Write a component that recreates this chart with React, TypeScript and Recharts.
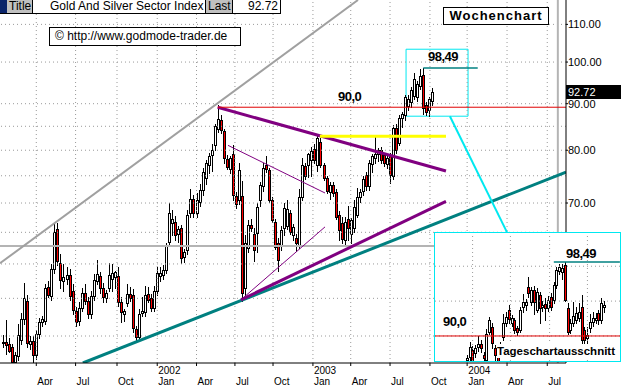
import { ComposedChart, Bar, XAxis, YAxis, ReferenceLine, ReferenceArea } from "recharts";

const FONT = "'Liberation Sans', Arial, Helvetica, sans-serif";

// weekly candles [open, high, low, close], one per week from Jan 2001
const weeklyOHLC: [number, number, number, number][] = [
  [49.3, 50.1, 48.6, 49.2], [49.2, 52.1, 47.8, 48.9], [49.0, 49.8, 48.0, 48.2], [48.6, 49.0, 46.2, 46.8],
  [46.8, 48.0, 46.3, 47.6], [47.5, 51.5, 47.0, 50.1], [49.5, 53.0, 49.0, 52.2], [52.2, 57.2, 51.6, 55.0],
  [54.6, 55.5, 48.6, 49.1], [49.0, 50.0, 48.4, 49.4], [49.4, 50.0, 46.6, 47.6], [47.6, 50.8, 47.2, 50.3],
  [50.3, 52.3, 49.8, 51.8], [51.8, 52.6, 51.3, 52.2], [52.0, 57.0, 51.6, 56.5], [56.6, 57.5, 55.2, 55.5],
  [55.3, 60.0, 54.8, 59.2], [59.2, 66.4, 58.7, 65.0], [65.5, 66.6, 59.8, 60.4], [60.2, 61.5, 56.5, 57.6],
  [57.4, 60.0, 56.0, 58.1], [57.8, 59.5, 57.1, 58.4], [58.4, 59.2, 54.8, 55.3], [56.0, 57.0, 52.8, 53.4],
  [53.2, 53.8, 51.3, 51.8], [51.9, 54.5, 51.4, 53.7], [53.7, 56.5, 53.2, 55.8], [55.7, 57.0, 54.2, 54.6],
  [54.6, 55.2, 52.3, 52.8], [52.8, 56.0, 52.3, 55.3], [55.3, 58.5, 54.8, 57.6], [57.5, 60.6, 57.0, 58.5],
  [58.2, 58.8, 55.8, 56.4], [56.4, 57.2, 54.5, 55.2], [55.0, 56.2, 54.5, 55.8], [56.5, 60.2, 56.0, 58.4],
  [57.8, 60.0, 56.0, 58.6], [58.0, 59.0, 56.5, 58.8], [58.2, 59.5, 54.0, 54.5], [54.5, 55.2, 51.8, 53.1],
  [52.8, 53.6, 52.0, 53.2], [54.4, 57.0, 54.0, 55.6], [55.6, 56.6, 54.6, 55.0], [55.5, 56.3, 50.5, 51.0],
  [50.9, 51.3, 49.4, 49.9], [49.9, 53.6, 49.5, 52.9], [53.0, 55.2, 52.6, 53.2], [53.1, 56.8, 52.6, 55.5],
  [55.6, 56.6, 54.5, 54.8], [55.1, 55.6, 53.2, 53.7], [53.7, 56.8, 53.2, 56.0], [56.0, 59.5, 55.5, 58.7],
  [58.2, 59.5, 57.5, 58.6], [58.4, 59.8, 57.8, 59.1], [59.1, 63.3, 58.6, 62.9], [63.5, 70.0, 62.9, 68.3],
  [66.5, 68.8, 64.6, 67.2], [66.7, 67.8, 63.8, 64.6], [64.8, 66.0, 63.5, 65.6], [65.7, 66.2, 60.2, 60.9],
  [61.0, 62.3, 60.3, 61.9], [62.2, 68.8, 61.5, 67.9], [68.2, 72.5, 67.6, 70.8], [70.7, 71.5, 67.6, 68.2],
  [68.2, 71.8, 67.5, 70.5], [70.2, 73.4, 69.5, 72.3], [72.3, 76.5, 71.5, 75.8], [74.5, 78.0, 73.5, 77.4],
  [77.0, 79.5, 75.5, 78.8], [79.0, 81.3, 76.0, 80.1], [81.0, 85.5, 80.0, 85.0], [84.5, 89.7, 83.8, 86.5],
  [86.3, 87.5, 83.5, 84.3], [84.0, 84.5, 77.5, 78.5], [78.2, 79.0, 76.3, 76.6], [76.3, 78.8, 75.5, 78.5],
  [79.2, 81.0, 70.5, 71.4], [71.3, 72.0, 69.2, 69.8], [70.5, 77.5, 69.8, 76.1], [71.2, 74.0, 54.6, 55.8],
  [56.5, 64.5, 55.5, 63.2], [62.5, 67.0, 61.8, 66.2], [66.2, 67.3, 65.2, 65.7], [64.8, 65.7, 60.5, 62.1],
  [64.9, 70.0, 61.8, 69.3], [70.5, 73.8, 69.5, 73.3], [73.0, 77.5, 72.2, 76.5], [77.0, 78.8, 75.8, 76.3],
  [76.1, 76.5, 70.2, 70.5], [70.5, 71.0, 66.8, 67.1], [66.8, 67.3, 62.3, 62.6], [63.3, 64.0, 59.0, 60.6],
  [63.0, 66.0, 62.2, 65.4], [65.7, 70.0, 64.6, 69.1], [66.0, 70.5, 65.5, 69.0], [68.2, 68.8, 64.8, 65.0],
  [64.6, 66.4, 63.8, 65.9], [64.0, 64.8, 62.0, 63.3], [63.0, 72.5, 62.4, 71.1], [71.0, 78.5, 70.5, 77.0],
  [76.8, 77.5, 74.4, 75.0], [77.1, 79.5, 74.8, 79.2], [78.0, 80.6, 75.0, 79.8], [80.3, 81.2, 77.5, 78.0],
  [77.0, 83.2, 76.0, 82.5], [81.6, 82.5, 76.6, 77.1], [77.1, 77.5, 74.2, 74.6], [74.6, 75.0, 71.8, 72.2],
  [71.9, 73.8, 70.8, 73.3], [73.3, 73.8, 71.3, 71.8], [72.0, 72.6, 67.2, 67.6], [67.9, 68.6, 63.7, 65.4],
  [66.5, 67.5, 63.2, 63.9], [63.8, 67.5, 62.8, 66.7], [67.3, 69.5, 63.8, 65.7], [64.8, 67.4, 63.3, 67.0],
  [65.7, 70.5, 65.0, 69.3], [67.9, 72.8, 67.5, 71.1], [71.0, 72.5, 70.2, 72.0], [72.2, 75.0, 71.5, 74.4],
  [75.2, 75.8, 72.3, 73.1], [73.1, 78.0, 72.3, 77.4], [77.2, 79.3, 75.8, 78.9], [78.5, 83.0, 77.5, 79.3],
  [79.2, 80.5, 77.8, 80.0], [80.0, 80.6, 77.5, 78.0], [79.0, 79.5, 76.8, 77.5], [77.2, 79.0, 76.5, 78.4],
  [79.0, 79.5, 73.6, 75.2], [75.0, 85.3, 74.4, 84.6], [84.6, 85.5, 79.4, 80.0], [81.5, 87.5, 81.0, 86.8],
  [86.8, 88.2, 84.8, 87.6], [87.4, 92.0, 86.4, 91.5], [89.5, 92.0, 88.5, 91.0], [90.5, 93.8, 89.3, 93.2],
  [91.8, 97.2, 91.0, 95.8], [91.5, 95.2, 90.6, 94.6], [94.2, 98.3, 93.4, 96.6], [96.8, 98.49, 87.6, 89.0],
  [89.8, 90.5, 87.4, 88.2], [88.5, 91.5, 87.2, 91.0], [90.6, 93.6, 89.8, 92.72],
];

// daily candles for the inset (Tageschartausschnitt)
const dailyOHLC: [number, number, number, number][] = [
  [87.2, 87.8, 86.9, 87.5], [87.6, 89.3, 86.9, 88.7], [88.4, 88.9, 86.8, 87.1], [88.0, 89.0, 87.6, 88.6],
  [88.7, 90.0, 88.3, 89.1], [89.1, 89.5, 88.2, 88.6], [87.8, 88.2, 87.1, 87.5], [87.3, 90.8, 87.1, 90.2],
  [90.5, 92.2, 90.2, 91.8], [91.0, 91.5, 88.6, 89.2], [88.6, 89.0, 87.3, 87.8], [87.6, 88.0, 86.8, 87.0],
  [88.0, 89.3, 87.6, 89.0], [89.9, 92.5, 89.5, 91.5], [91.5, 92.8, 91.2, 92.2], [93.0, 93.6, 91.5, 91.9],
  [91.5, 92.4, 91.2, 92.1], [91.8, 92.1, 90.3, 90.7], [90.9, 91.2, 90.1, 90.5], [90.7, 93.3, 90.4, 93.0],
  [93.3, 94.8, 92.8, 93.9], [93.5, 94.2, 93.0, 93.9], [95.6, 96.8, 94.5, 94.9], [93.9, 95.6, 93.5, 95.3],
  [95.3, 95.7, 92.5, 93.9], [93.0, 95.5, 92.7, 95.0], [94.7, 95.0, 91.5, 93.2], [93.3, 94.0, 92.9, 93.6],
  [93.7, 94.3, 91.8, 93.2], [93.2, 94.6, 92.9, 94.1], [94.5, 94.9, 93.0, 93.3], [94.1, 96.2, 93.8, 95.8],
  [95.8, 97.9, 95.5, 97.6], [97.4, 98.2, 97.1, 97.9], [97.3, 98.2, 96.5, 97.8], [98.1, 98.49, 94.0, 94.1],
  [93.2, 93.8, 90.2, 90.5], [90.7, 92.0, 90.3, 91.5], [91.5, 93.9, 91.2, 92.3], [91.8, 93.3, 91.5, 92.6],
  [92.1, 93.8, 91.7, 92.7], [93.3, 94.7, 89.2, 89.5], [90.7, 91.0, 89.1, 89.5], [89.8, 91.0, 88.8, 90.1],
  [90.9, 92.5, 90.4, 91.6], [91.6, 92.8, 91.2, 92.1], [91.8, 92.6, 91.5, 92.1], [92.6, 93.0, 91.4, 91.8],
  [91.8, 94.3, 91.5, 93.8], [93.3, 94.0, 92.8, 93.5],
];

// x axis: week position of each quarter label
const quarterWeeks = [12, 25, 38.7, 52, 65, 77.7, 90.3, 103.5, 116, 129, 142.2, 154.5, 167.7, 181];
const quarterLabels = ["Apr", "Jul", "Oct", "Jan", "Apr", "Jul", "Oct", "Jan", "Apr", "Jul", "Oct", "Jan", "Apr", "Jul"];
const yearLabels = ["", "", "", "2002", "", "", "", "2003", "", "", "", "2004", "", ""];

const priceTicks = [70, 80, 90, 100, 110];
const gridPrices = [50, 55, 60, 65, 70, 75, 80, 85, 90, 100, 110];

// drawn lines, [week, price] endpoints
const grayChannel = [[0, 60.1], [118.4, 117]];
const tealTrend = [[27.4, 46.7], [187.2, 75.7]];
const purpleLower = [[79.7, 54.8], [147.5, 70.3]];
const purpleThinLower = [[79.7, 54.8], [107.5, 65.9]];
const purpleUpper = [[72, 89.2], [147.5, 75.9]];
const purpleThinUpper = [[75.4, 81.0], [107.5, 71.8]];
const yellowLevel = [[105.8, 82.9], [147.5, 82.9]];
const redLevel = [[72, 89.2], [187.2, 89.2]];
const tealHigh = [[140, 98.49], [158, 98.49]];
const zoomBox = { x1: 134.3, x2: 154.8, y1: 87.2, y2: 103.3 };
const cyanLink = [[148.8, 87.2], [167.7, 65.0]];
const grayLevel = 62.8;
const grayMarker = 184.5;

const insetGridPrices = [90, 94, 98];
const insetGridDays = [3, 16.5, 30.5, 44];

function makeCandle(kind: "log" | "linear") {
  return (props: any) => {
    const { x, y, width, height, payload } = props;
    if (x == null || y == null || !payload) return <g />;
    const top = Math.min(y, y + height);
    const span = Math.abs(height);
    const { o, h, l, c } = payload;
    const frac = (v: number) =>
      h === l ? 0 : kind === "log" ? (Math.log(h) - Math.log(v)) / (Math.log(h) - Math.log(l)) : (h - v) / (h - l);
    const py = (v: number) => top + span * frac(v);
    const cx = Math.round(x + width / 2);
    const bTop = Math.round(py(Math.max(o, c)));
    const bBot = Math.round(py(Math.min(o, c)));
    const up = c >= o;
    return (
      <g>
        <line x1={cx + 0.5} x2={cx + 0.5} y1={Math.round(top)} y2={Math.round(top + span) + 1} stroke="#000" strokeWidth={1} />
        <rect x={cx - 0.5} y={bTop + 0.5} width={2} height={Math.max(bBot - bTop, 1)} fill={up ? "#fff" : "#ff0000"} stroke="#000" strokeWidth={1} />
      </g>
    );
  };
}

const WeeklyCandle = makeCandle("log");
const DailyCandle = makeCandle("linear");

function QuarterTick(props: any) {
  const { x, y, payload } = props;
  const i = quarterWeeks.indexOf(payload.value);
  return (
    <g>
      {yearLabels[i] ? (
        <text x={x + 1} y={y + 5.5} fontSize={10} fontFamily={FONT} fill="#000">{yearLabels[i]}</text>
      ) : null}
      <text x={x + 1} y={y + 16.5} fontSize={10} fontFamily={FONT} fill="#000">{quarterLabels[i]}</text>
    </g>
  );
}

function seg(p: number[][]) {
  return [{ x: p[0][0], y: p[0][1] }, { x: p[1][0], y: p[1][1] }];
}

const bold = { fontFamily: FONT, fontWeight: 700, position: "absolute" as const, lineHeight: "14px", whiteSpace: "nowrap" as const };

export default function App() {
  const weekly = weeklyOHLC.map(([o, h, l, c], i) => ({ week: i + 1, o, h, l, c, range: [l, h] }));
  const daily = dailyOHLC.map(([o, h, l, c], i) => ({ day: i + 1, o, h, l, c, range: [l, h] }));

  return (
    <div style={{ position: "fixed", left: 0, top: 0, width: 621, height: 385, background: "#fff", overflow: "hidden", fontFamily: FONT }}>
      <ComposedChart width={621} height={385} data={weekly} margin={{ top: 0, right: 0, bottom: 0, left: 0 }}>
        <XAxis
          type="number"
          dataKey="week"
          domain={[0, 187.2]}
          allowDataOverflow
          ticks={quarterWeeks}
          interval={0}
          tick={<QuarterTick />}
          tickSize={3}
          tickLine={{ stroke: "#000" }}
          axisLine={{ stroke: "#000" }}
          height={22}
        />
        <YAxis
          orientation="right"
          scale="log"
          domain={[46.7, 117]}
          allowDataOverflow
          ticks={priceTicks}
          interval={0}
          tickFormatter={(v: number) => v.toFixed(2)}
          tick={{ fill: "#000", fontSize: 11, fontFamily: FONT }}
          tickSize={2}
          tickMargin={0}
          tickLine={{ stroke: "#000" }}
          axisLine={{ stroke: "#000" }}
          width={55}
        />
        {gridPrices.map((p) => (
          <ReferenceLine key={"g" + p} y={p} stroke="#9a9a9a" strokeDasharray="1 3" />
        ))}
        {quarterWeeks.map((w) => (
          <ReferenceLine key={"v" + w} x={w} stroke="#9a9a9a" strokeDasharray="1 3" />
        ))}
        <ReferenceLine y={grayLevel} stroke="#b4b4b4" strokeWidth={2} />
        <ReferenceLine x={grayMarker} stroke="#b4b4b4" strokeWidth={2} />
        <ReferenceLine segment={seg(grayChannel)} stroke="#a0a0a0" strokeWidth={2} ifOverflow="hidden" />
        <ReferenceLine segment={seg(tealTrend)} stroke="#008080" strokeWidth={3} ifOverflow="hidden" />
        <ReferenceLine segment={seg(purpleLower)} stroke="#800080" strokeWidth={3} ifOverflow="hidden" />
        <ReferenceLine segment={seg(purpleThinLower)} stroke="#800080" strokeWidth={1} ifOverflow="hidden" />
        <ReferenceLine segment={seg(purpleUpper)} stroke="#800080" strokeWidth={3} ifOverflow="hidden" />
        <ReferenceLine segment={seg(purpleThinUpper)} stroke="#800080" strokeWidth={1} ifOverflow="hidden" />
        <ReferenceLine segment={seg(yellowLevel)} stroke="#ffff00" strokeWidth={3} ifOverflow="hidden" />
        <ReferenceLine segment={seg(redLevel)} stroke="#e00000" strokeWidth={1} ifOverflow="hidden" />
        <ReferenceLine segment={seg(tealHigh)} stroke="#008080" strokeWidth={1.5} ifOverflow="hidden" />
        <Bar dataKey="range" barSize={3} shape={WeeklyCandle} isAnimationActive={false} />
        <ReferenceArea x1={zoomBox.x1} x2={zoomBox.x2} y1={zoomBox.y1} y2={zoomBox.y2} fill="none" fillOpacity={0} stroke="#00e8f0" strokeWidth={1} ifOverflow="hidden" />
        <ReferenceLine segment={seg(cyanLink)} stroke="#00e8f0" strokeWidth={2} ifOverflow="hidden" />
      </ComposedChart>

      {/* title bar */}
      <div style={{ position: "absolute", left: 0, top: 0, width: 280, height: 13, borderRight: "1px solid #000", borderBottom: "1px solid #000", fontSize: 12, lineHeight: "13px", background: "#fff" }}>
        <div style={{ position: "absolute", left: 0, top: 0, width: 7, height: 13, background: "#0a246a" }} />
        <div style={{ position: "absolute", left: 7, top: 0, width: 25, height: 13, background: "#c0c0c0", paddingLeft: 2, boxSizing: "border-box" }}>Title</div>
        <div style={{ position: "absolute", left: 32, top: 0, width: 1, height: 13, background: "#000" }} />
        <div style={{ position: "absolute", left: 50, top: 0 }}>Gold And Silver Sector Index</div>
        <div style={{ position: "absolute", left: 205, top: 0, width: 1, height: 13, background: "#000" }} />
        <div style={{ position: "absolute", left: 206, top: 0, width: 26, height: 13, background: "#c0c0c0", paddingLeft: 2, boxSizing: "border-box" }}>Last</div>
        <div style={{ position: "absolute", left: 232, top: 0, width: 1, height: 13, background: "#000" }} />
        <div style={{ position: "absolute", left: 233, top: 0, width: 45, textAlign: "right" }}>92.72</div>
      </div>

      <div style={{ position: "absolute", left: 49, top: 27, width: 192, height: 19, border: "1px solid #000", boxSizing: "border-box", background: "#fff", fontSize: 12, lineHeight: "17px", paddingLeft: 5 }}>
        © http://www.godmode-trader.de
      </div>

      <div style={{ ...bold, left: 443, top: 7, width: 106, height: 18, border: "1px solid #000", boxSizing: "border-box", background: "#fff", fontSize: 13, lineHeight: "16px", letterSpacing: 1, textAlign: "center" }}>
        Wochenchart
      </div>

      <div style={{ ...bold, left: 338, top: 90, fontSize: 13, letterSpacing: -0.5 }}>90,0</div>
      <div style={{ ...bold, left: 428, top: 50, fontSize: 13, letterSpacing: -0.5 }}>98,49</div>

      <div style={{ position: "absolute", left: 566, top: 85, width: 55, height: 14, background: "#000", color: "#fff", fontSize: 11, lineHeight: "14px", paddingLeft: 2, boxSizing: "border-box" }}>92.72</div>

      {/* inset daily chart */}
      <div style={{ position: "absolute", left: 434, top: 232, width: 185, height: 128, border: "1px solid #00e8f0", background: "#fff", overflow: "hidden" }}>
        <ComposedChart width={185} height={128} data={daily} margin={{ top: 0, right: 0, bottom: 0, left: 0 }}>
          <XAxis type="number" dataKey="day" domain={[-10.43, 55.64]} allowDataOverflow hide />
          <YAxis domain={[87.13, 101.81]} allowDataOverflow hide />
          {insetGridPrices.map((p) => (
            <ReferenceLine key={"ig" + p} y={p} stroke="#9a9a9a" strokeDasharray="1 3" />
          ))}
          {insetGridDays.map((d) => (
            <ReferenceLine key={"iv" + d} x={d} stroke="#9a9a9a" strokeDasharray="1 3" />
          ))}
          <ReferenceLine y={90} stroke="#e00000" strokeWidth={1} />
          <ReferenceLine segment={[{ x: 32, y: 98.49 }, { x: 55.6, y: 98.49 }]} stroke="#008080" strokeWidth={1.5} />
          <Bar dataKey="range" barSize={3} shape={DailyCandle} isAnimationActive={false} />
        </ComposedChart>
        <div style={{ ...bold, left: 8, top: 82, fontSize: 13, letterSpacing: -0.5 }}>90,0</div>
        <div style={{ ...bold, left: 131, top: 14, fontSize: 13, letterSpacing: -0.5 }}>98,49</div>
        <div style={{ ...bold, left: 62, top: 111, fontSize: 11.5, background: "#fff" }}>Tageschartausschnitt</div>
      </div>
    </div>
  );
}
